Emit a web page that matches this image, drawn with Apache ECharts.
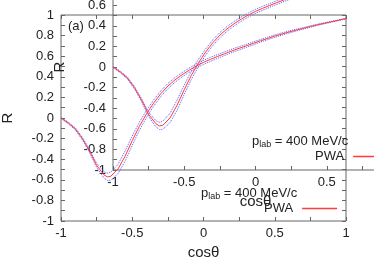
<!DOCTYPE html>
<html>
<head>
<meta charset="utf-8">
<script src="https://cdn.jsdelivr.net/npm/echarts@6/dist/echarts.min.js"></script>
<style>
html,body{margin:0;padding:0;background:#fff;}
#chart{width:374px;height:262px;}
</style>
</head>
<body>
<div id="chart"></div>
<script>
// cos(theta) sample points
const cosTheta = [-1, -0.95, -0.9, -0.85, -0.8, -0.75, -0.7, -0.675, -0.65, -0.6, -0.55, -0.5, -0.45, -0.4, -0.35, -0.3, -0.25, -0.2, -0.15, -0.1, -0.05, 0, 0.05, 0.1, 0.15, 0.2, 0.25, 0.3, 0.35, 0.4, 0.45, 0.5, 0.55, 0.6, 0.65, 0.7, 0.75, 0.8, 0.85, 0.9, 0.95, 1];
// PWA central values
const pwa = [0, -0.047, -0.105, -0.2, -0.32, -0.46, -0.55, -0.572, -0.565, -0.495, -0.37, -0.22, -0.08, 0.04, 0.145, 0.235, 0.31, 0.37, 0.42, 0.465, 0.505, 0.54, 0.57, 0.598, 0.625, 0.652, 0.677, 0.7, 0.725, 0.75, 0.772, 0.795, 0.815, 0.835, 0.853, 0.87, 0.888, 0.905, 0.92, 0.935, 0.95, 0.965];
// lower / upper bounds (blue dotted)
const pwaLow = [-0.005, -0.055, -0.115, -0.212, -0.335, -0.48, -0.58, -0.607, -0.605, -0.54, -0.42, -0.265, -0.12, 0.005, 0.115, 0.207, 0.285, 0.347, 0.398, 0.445, 0.485, 0.52, 0.55, 0.58, 0.607, 0.635, 0.661, 0.685, 0.711, 0.737, 0.76, 0.783, 0.804, 0.825, 0.844, 0.862, 0.881, 0.899, 0.915, 0.931, 0.947, 0.962];
const pwaHigh = [0.005, -0.039, -0.095, -0.188, -0.305, -0.44, -0.52, -0.537, -0.525, -0.45, -0.32, -0.175, -0.04, 0.075, 0.175, 0.263, 0.335, 0.393, 0.442, 0.485, 0.525, 0.56, 0.59, 0.616, 0.643, 0.669, 0.693, 0.715, 0.739, 0.763, 0.784, 0.807, 0.826, 0.845, 0.862, 0.878, 0.895, 0.911, 0.925, 0.939, 0.953, 0.968];
// axis ranges / tick steps
const xRange = [-1, 1], xStep = 0.5;
const yRange = [-1, 1], yStep = 0.2;

const pairs = arr => cosTheta.map((c, i) => [c, arr[i]]);
const FONT = 'Liberation Sans, Arial, sans-serif';
const TXT = '#222';
const AX = '#666';

function xAx(grid, pos, withLabel) {
  return {
    gridIndex: grid, type: 'value', min: xRange[0], max: xRange[1], interval: xStep, position: pos,
    axisLine: {show: false, onZero: false},
    axisTick: {show: true, inside: true, length: 4, lineStyle: {color: AX}},
    minorTick: {show: true, splitNumber: 2, length: 4, lineStyle: {color: AX}},
    splitLine: {show: false}, minorSplitLine: {show: false},
    axisLabel: {show: withLabel, fontSize: 13, fontFamily: FONT, color: TXT, margin: 6},
    name: withLabel ? 'cosθ' : '', nameLocation: 'middle', nameGap: 24,
    nameTextStyle: {fontSize: 15, fontFamily: FONT, color: TXT}
  };
}
function yAx(grid, pos, withLabel) {
  return {
    gridIndex: grid, type: 'value', min: yRange[0], max: yRange[1], interval: yStep, position: pos,
    axisLine: {show: false, onZero: false},
    axisTick: {show: true, inside: true, length: 4, lineStyle: {color: AX}},
    minorTick: {show: true, splitNumber: 2, length: 4, lineStyle: {color: AX}},
    splitLine: {show: false}, minorSplitLine: {show: false},
    axisLabel: {show: withLabel, fontSize: 13, fontFamily: FONT, color: TXT, margin: 7},
    name: withLabel ? 'R' : '', nameLocation: 'middle', nameGap: 46,
    nameTextStyle: {fontSize: 15, fontFamily: FONT, color: TXT}
  };
}
function seriesFor(g) {
  const base = {type: 'line', xAxisIndex: g * 2, yAxisIndex: g * 2, symbol: 'none', showSymbol: false, animation: false, z: 3};
  return [
    Object.assign({}, base, {name: 'PWA low', data: pairs(pwaLow), lineStyle: {color: '#5a5aff', width: 1, type: 'dotted'}, itemStyle: {color: '#5a5aff'}}),
    Object.assign({}, base, {name: 'PWA high', data: pairs(pwaHigh), lineStyle: {color: '#5a5aff', width: 1, type: 'dotted'}, itemStyle: {color: '#5a5aff'}}),
    Object.assign({}, base, {name: 'PWA', data: pairs(pwa), lineStyle: {color: '#ff3b3b', width: 1}, itemStyle: {color: '#ff3b3b'}, z: 4})
  ];
}
function legendAt(left, top) {
  return {
    data: ['PWA'], left: left, top: top, align: 'right', orient: 'vertical', padding: 0,
    icon: 'rect', itemWidth: 35, itemHeight: 1.5,
    textStyle: {fontSize: 13, fontFamily: FONT, color: TXT, padding: [0, 4, 0, 0]},
    selectedMode: false
  };
}
const plabRich = {
  a: {fontSize: 13, fontFamily: FONT, color: TXT},
  s: {fontSize: 9, fontFamily: FONT, color: TXT, padding: [7, 0, 0, 0]}
};
function plab(x, y) {
  return {type: 'text', x: x, y: y, z: 10,
    style: {text: '{a|p}{s|lab}{a| = 400 MeV/c}', rich: plabRich, verticalAlign: 'middle', align: 'left', fill: TXT}};
}

const chart = echarts.init(document.getElementById('chart'), null, {renderer: 'canvas'});
chart.setOption({
  animation: false,
  backgroundColor: '#fff',
  grid: [
    {left: 61, top: 15, width: 285, height: 206, show: true, borderColor: AX, borderWidth: 1, backgroundColor: 'transparent', outerBoundsMode: 'none', containLabel: false},
    {left: 113, top: -36, width: 285, height: 206, show: true, borderColor: AX, borderWidth: 1, backgroundColor: 'transparent', outerBoundsMode: 'none', containLabel: false}
  ],
  xAxis: [xAx(0, 'bottom', true), xAx(0, 'top', false), xAx(1, 'bottom', true), xAx(1, 'top', false)],
  yAxis: [yAx(0, 'left', true), yAx(0, 'right', false), yAx(1, 'left', true), yAx(1, 'right', false)],
  legend: [legendAt(264, 202), legendAt(315, 150)],
  graphic: [
    {type: 'text', x: 68, y: 26, z: 10, style: {text: '(a)', font: '13px ' + FONT, fill: TXT, verticalAlign: 'middle'}},
    plab(201, 193),
    plab(252, 141)
  ],
  series: [].concat(seriesFor(0), seriesFor(1))
});
</script>
</body>
</html>
